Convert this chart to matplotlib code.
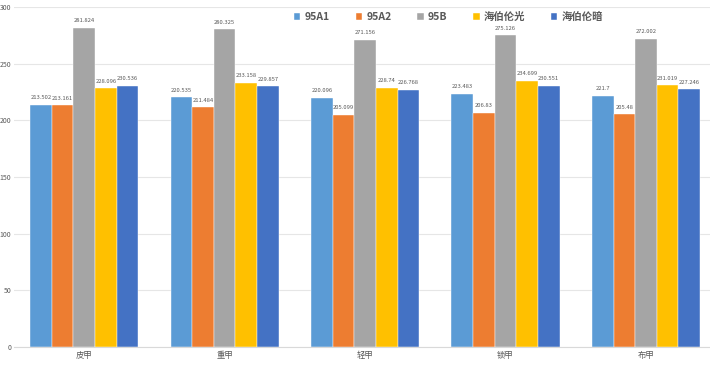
import numpy as np
import matplotlib.pyplot as plt

plt.rcParams['font.family'] = ['Noto Sans CJK SC', 'DejaVu Sans']

categories = ['皮甲', '重甲', '轻甲', '锁甲', '布甲']
series_names = ['95A1', '95A2', '95B', '海伯伦光', '海伯伦暗']
a1 = [213.502, 220.535, 220.096, 223.483, 221.7]
a2 = [213.161, 211.484, 205.099, 206.83, 205.48]
b = [281.824, 280.325, 271.156, 275.126, 272.002]
light = [228.096, 233.158, 228.74, 234.699, 231.019]
dark = [230.536, 229.857, 226.768, 230.551, 227.246]
colors = ['#5B9BD5', '#ED7D31', '#A5A5A5', '#FFC000', '#4472C4']

fig = plt.figure(figsize=(7.1, 3.65), dpi=100)
# the original is cropped on the right, so the axes run past the figure edge
ax = fig.add_axes([0.0197, 0.049, 0.989, 0.932])

x = np.arange(len(categories))
width = 0.154
for i, (vals, name, c) in enumerate(zip([a1, a2, b, light, dark], series_names, colors)):
    pos = x + (i - 2) * width
    ax.bar(pos, vals, width, color=c, label=name, edgecolor='white', linewidth=0.3, zorder=2)
    for px, v in zip(pos, vals):
        ax.text(px, v + 4, f'{v:g}', ha='center', va='bottom', fontsize=4.2, color='#595959')

ax.set_xlim(-0.5, len(categories) - 0.5)
ax.set_ylim(0, 300)
ax.set_yticks(range(0, 301, 50))
ax.set_xticks(x)
ax.set_xticklabels(categories, fontsize=6, color='#595959')
ax.tick_params(axis='y', labelsize=5, colors='#595959', length=0, pad=2)
ax.tick_params(axis='x', length=0, pad=3)
ax.grid(axis='y', color='#E6E6E6', linewidth=0.8, zorder=0)
for s in ['top', 'right', 'left']:
    ax.spines[s].set_visible(False)
ax.spines['bottom'].set_color('#D9D9D9')

leg = ax.legend(loc='center', bbox_to_anchor=(0.619, 0.97), ncol=5, frameon=False,
                fontsize=7.5, handlelength=0.6, handleheight=0.6, handletextpad=0.4,
                columnspacing=2.5, borderpad=0)
for t in leg.get_texts():
    t.set_color('#595959')
    t.set_fontweight('bold')

fig.savefig('out.png', dpi=100)
